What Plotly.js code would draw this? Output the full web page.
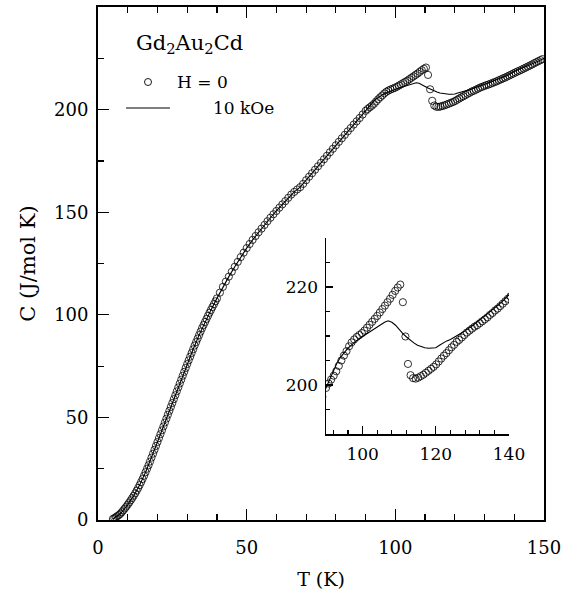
<!DOCTYPE html>
<html>
<head>
<meta charset="utf-8">
<script src="https://cdn.plot.ly/plotly-3.0.1.min.js"></script>
<style>html,body{margin:0;padding:0;background:#fff;}#chart{width:575px;height:595px;}</style>
</head>
<body>
<div id="chart"></div>
<script>
// H = 0 data (open circles)
const T_H0 = [
5.0,5.5,6.0,6.5,7.0,7.5,8.0,8.5,9.0,9.5,10.0,10.5,11.0,11.5,12.0,12.5,13.0,13.5,14.0,14.5,
15.0,15.5,16.0,16.5,17.0,17.5,18.0,18.5,19.0,19.5,20.0,20.5,21.0,21.5,22.0,22.5,23.0,23.5,24.0,24.5,
25.0,25.5,26.0,26.5,27.0,27.5,28.0,28.5,29.0,29.5,30.0,30.5,31.0,31.5,32.0,32.5,33.0,33.5,34.0,34.5,
35.0,35.5,36.0,36.5,37.0,37.5,38.0,38.5,39.0,39.5,40.0,
41,42,43,44,45,46,47,48,49,50,51,52,53,54,55,56,57,58,59,60,61,62,63,64,65,66,67,68,69,70,
71,72,73,74,75,76,77,78,79,80,81,82,83,84,85,86,87,88,89,
90.0,90.7,91.4,92.1,92.8,93.5,94.2,94.9,95.6,96.3,97.0,97.7,98.4,99.1,99.8,100.5,101.2,101.9,102.6,103.3,
104.0,104.7,105.4,106.1,106.8,107.5,108.2,108.9,109.6,110.3,111.0,111.7,112.4,113.1,113.8,114.5,115.2,115.9,116.6,117.3,
118.0,118.7,119.4,120.1,120.8,121.5,122.2,122.9,123.6,124.3,125.0,125.7,126.4,127.1,127.8,128.5,129.2,129.9,130.6,131.3,
132.0,132.7,133.4,134.1,134.8,135.5,136.2,136.9,137.6,138.3,139.0,139.7,140.4,141.1,141.8,142.5,143.2,143.9,144.6,145.3,
146.0,146.7,147.4,148.1,148.8,149.5
];
const C_H0 = [
0.5,0.9,1.4,1.9,2.4,3.0,3.8,4.7,5.6,6.5,7.5,8.5,9.6,10.7,11.8,13.0,14.3,15.6,17.0,18.5,
20.0,21.6,23.3,25.0,26.7,28.5,30.4,32.3,34.2,36.1,38.0,39.9,41.8,43.7,45.6,47.5,49.4,51.3,53.2,55.1,
57.0,58.9,60.8,62.7,64.6,66.5,68.4,70.3,72.2,74.1,76.0,77.8,79.6,81.4,83.2,85.0,86.7,88.4,90.1,91.8,
93.5,95.0,96.5,98.0,99.5,101.0,102.4,103.8,105.2,106.6,108.0,
110.8,113.6,116.2,118.6,121.0,123.4,125.8,128.1,130.3,132.5,134.5,136.5,138.4,140.2,142.0,143.8,145.6,147.3,149.0,150.6,
152.2,153.8,155.4,157.0,158.6,159.9,161.1,162.2,163.8,165.6,167.3,169.0,170.7,172.4,174.1,175.8,177.5,179.2,180.9,182.6,
184.3,186.0,187.7,189.4,191.0,192.7,194.3,195.9,197.6,
199.4,200.3,201.1,201.9,202.8,203.9,205.0,206.0,206.9,207.9,208.7,209.3,209.8,210.2,210.6,211.1,211.7,212.3,212.9,213.5,
214.1,214.8,215.5,216.2,216.9,217.6,218.4,219.2,219.9,220.5,216.9,209.9,204.3,202.0,201.4,201.3,201.5,201.8,202.1,202.5,
202.9,203.3,203.7,204.2,204.8,205.4,206.0,206.5,207.1,207.7,208.2,208.8,209.2,209.7,210.2,210.7,211.1,211.5,211.9,212.2,
212.6,213.0,213.4,213.8,214.3,214.7,215.2,215.6,216.1,216.6,217.1,217.6,218.1,218.6,219.0,219.5,220.0,220.5,221.0,221.5,
222.0,222.6,223.1,223.6,224.1,224.6
];
// 10 kOe data (solid line)
const T_10k = [5,6,7,8,9,10,12,14,16,18,20,22,24,26,28,30,32,34,36,38,40,42,44,46,48,50,52,54,56,58,60,62,64,66,68,70,
72,74,76,78,80,82,84,86,88,90,91,92,93,94,95,96,97,98,99,100,101,102,103,104,105,106,107,108,109,110,111,112,113,114,115,
116,117,118,119,120,121,122,123,124,125,126,127,128,130,132,134,136,138,140,142,144,146,148,150];
const C_10k = [0.5,1.4,2.4,3.8,5.6,7.5,11.8,17.0,23.3,30.4,38.0,45.6,53.2,60.8,68.4,76.0,83.2,90.1,96.5,102.4,108.0,113.6,118.6,
123.4,128.1,132.5,136.5,140.2,143.8,147.3,150.6,153.8,157.0,159.9,162.2,165.6,169.0,172.4,175.8,179.2,182.6,186.0,189.4,192.7,195.9,
199.5,201.3,203.0,204.5,205.7,206.7,207.5,208.2,208.9,209.4,209.9,210.4,210.9,211.4,211.9,212.4,212.8,213.1,212.8,212.2,211.3,210.5,
209.8,209.1,208.6,208.1,207.8,207.6,207.5,207.5,207.6,208.1,208.6,209.0,209.3,209.7,210.2,210.6,211.1,212.1,213.3,214.6,215.7,216.9,
218.6,220.0,221.2,222.4,223.6,225.0];

const mainXTicks = [0,50,100,150];
const mainYTicks = [0,50,100,150,200];
const insetXTicks = [100,120,140];
const insetXMinor = [92,96,104,108,112,116,124,128,132,136];
const insetYTicks = [200,220];
const insetYMinor = [195,205,210,215,225,230];

const FONT = 'DejaVu Serif, serif';
const circ = {symbol:'circle-open', size:7.2, color:'black', line:{width:0.8, color:'black'}};

const traces = [
  {x:T_H0, y:C_H0, type:'scatter', mode:'markers', marker:circ, xaxis:'x', yaxis:'y', showlegend:false, cliponaxis:true},
  {x:T_10k, y:C_10k, type:'scatter', mode:'lines', line:{color:'black', width:1.1}, xaxis:'x', yaxis:'y', showlegend:false},
  {x:T_H0, y:C_H0, type:'scatter', mode:'markers', marker:circ, xaxis:'x2', yaxis:'y2', showlegend:false, cliponaxis:true},
  {x:T_10k, y:C_10k, type:'scatter', mode:'lines', line:{color:'black', width:1.1}, xaxis:'x2', yaxis:'y2', showlegend:false}
];

// pixel helpers for paper coords (plot area: x 98..544, y 7..520)
const px = v => (v-98)/446, py = v => (520-v)/513;

const layout = {
  width:575, height:595,
  margin:{l:98, r:31, t:7, b:75},
  paper_bgcolor:'white', plot_bgcolor:'white',
  font:{family:FONT, color:'black', size:18},
  showlegend:false,
  xaxis:{
    range:[0,150], domain:[0,1], showgrid:false, zeroline:false,
    showline:true, linecolor:'black', linewidth:2, mirror:'ticks',
    ticks:'inside', ticklen:11, tickwidth:1.3, tickcolor:'black',
    tickmode:'array', tickvals:mainXTicks, ticktext:mainXTicks.map(String),
    minor:{tickmode:'linear', tick0:0, dtick:10, ticks:'inside', ticklen:6, tickwidth:1.2, tickcolor:'black'},
    tickfont:{family:FONT, size:18}, ticklabelstandoff:10,
    title:{text:'T (K)', font:{family:FONT, size:19}, standoff:16}
  },
  yaxis:{
    range:[0,250], domain:[0,1], showgrid:false, zeroline:false,
    showline:true, linecolor:'black', linewidth:2, mirror:true,
    ticks:'inside', ticklen:11, tickwidth:1.3, tickcolor:'black',
    tickmode:'array', tickvals:mainYTicks, ticktext:mainYTicks.map(String),
    minor:{tickmode:'linear', tick0:0, dtick:25, ticks:'inside', ticklen:6, tickwidth:1.2, tickcolor:'black'},
    tickfont:{family:FONT, size:18}, ticklabelstandoff:4,
    title:{text:'C (J/mol K)', font:{family:FONT, size:21}, standoff:13}
  },
  xaxis2:{
    range:[90,140], domain:[px(326), px(509)], anchor:'y2', showgrid:false, zeroline:false,
    showline:true, linecolor:'black', linewidth:1.5,
    ticks:'inside', ticklen:8, tickwidth:1.2, tickcolor:'black',
    tickmode:'array', tickvals:insetXTicks, ticktext:insetXTicks.map(String),
    minor:{tickmode:'array', tickvals:insetXMinor, ticks:'inside', ticklen:4, tickwidth:1.1, tickcolor:'black'},
    tickfont:{family:FONT, size:17}, ticklabelstandoff:4
  },
  yaxis2:{
    range:[190,230], domain:[py(434), py(238)], anchor:'x2', showgrid:false, zeroline:false,
    showline:true, linecolor:'black', linewidth:1.5,
    ticks:'inside', ticklen:7, tickwidth:1.2, tickcolor:'black',
    tickmode:'array', tickvals:insetYTicks, ticktext:insetYTicks.map(String),
    minor:{tickmode:'array', tickvals:insetYMinor, ticks:'inside', ticklen:4, tickwidth:1.1, tickcolor:'black'},
    tickfont:{family:FONT, size:17}, ticklabelstandoff:3
  },
  annotations:[
    {xref:'paper', yref:'paper', x:px(134), y:py(44), xanchor:'left', yanchor:'middle', showarrow:false,
     text:'Gd<sub>2</sub>Au<sub>2</sub>Cd', font:{family:FONT, size:21}},
    {xref:'paper', yref:'paper', x:px(175), y:py(82), xanchor:'left', yanchor:'middle', showarrow:false,
     text:'H = 0', font:{family:FONT, size:17}},
    {xref:'paper', yref:'paper', x:px(211), y:py(108), xanchor:'left', yanchor:'middle', showarrow:false,
     text:'10 kOe', font:{family:FONT, size:17}}
  ],
  shapes:[
    {type:'circle', xref:'paper', yref:'paper', xsizemode:'pixel', ysizemode:'pixel',
     xanchor:px(148), yanchor:py(82), x0:-3.5, x1:3.5, y0:-3.5, y1:3.5, line:{color:'black', width:0.9}},
    {type:'line', xref:'paper', yref:'paper', x0:px(126), x1:px(170), y0:py(108), y1:py(108),
     line:{color:'black', width:1.1}}
  ]
};

Plotly.newPlot('chart', traces, layout, {staticPlot:true, displayModeBar:false});
</script>
</body>
</html>
